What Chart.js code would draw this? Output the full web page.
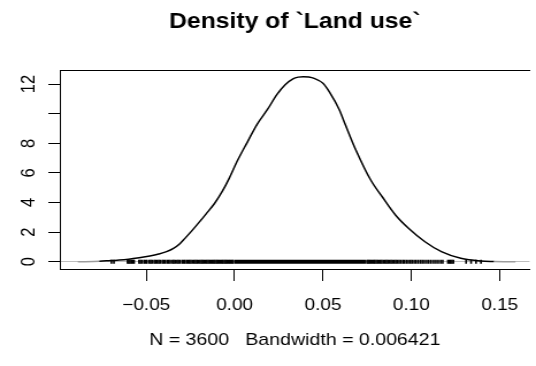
<!DOCTYPE html>
<html>
<head>
<meta charset="utf-8">
<script src="https://cdn.jsdelivr.net/npm/chart.js@4"></script>
<style>
    html, body { margin: 0; padding: 0; background: #fff; }
</style>
</head>
<body>
<!-- the canvas is drawn narrower and stretched to 536px, like the original picture -->
<canvas id="density-chart" width="466" height="366" style="width:536px;height:366px;display:block"></canvas>
<script>
// Kernel density estimate
const densX = [-0.0887, -0.0765, -0.0700, -0.0653, -0.0600, -0.0540, -0.0480, -0.0430, -0.0385, -0.0346,
    -0.0310, -0.0281, -0.0245, -0.0206, -0.0160, -0.0113, -0.0070, -0.0030, 0.0017, 0.0073,
    0.0128, 0.0184, 0.0240, 0.0286, 0.0330, 0.0360, 0.0389, 0.0420, 0.0450, 0.0500,
    0.0537, 0.0593, 0.0625, 0.0686, 0.0770, 0.0835, 0.0910, 0.0984, 0.1077, 0.1170,
    0.1280, 0.1393, 0.1468, 0.1589];
const densY = [0.00, 0.03, 0.08, 0.11, 0.17, 0.27, 0.39, 0.52, 0.68, 0.90,
    1.22, 1.58, 2.05, 2.59, 3.25, 3.95, 4.75, 5.65, 6.85, 8.10,
    9.30, 10.25, 11.30, 11.95, 12.35, 12.47, 12.50, 12.47, 12.38, 12.05,
    11.45, 10.25, 9.30, 7.55, 5.52, 4.39, 3.16, 2.26, 1.35, 0.68,
    0.23, 0.05, 0.02, 0.00];

// Rug marks in the sparse parts, and the stretch where they merge into one bar
const rugTicks = [-0.0697, -0.0683, -0.0606, -0.0599, -0.0592, -0.0584, -0.0576, -0.0569,
    -0.0541, -0.0533, -0.0524, -0.0512, -0.0504, -0.0496, -0.0483, -0.0475, -0.0467, -0.0455,
    -0.0447, -0.0438, -0.0429, -0.0421, -0.0409, -0.0401, -0.0392, -0.0381, -0.0373, -0.0364,
    -0.0352, -0.0345, -0.0337, -0.0326, -0.0318, -0.0309, -0.0297, -0.0289, -0.0281, -0.0271,
    -0.0263, -0.0255, -0.0247, -0.0238, -0.0229, -0.0221, -0.0213, -0.0205, -0.0196, -0.0188,
    -0.0181, -0.0173, -0.0165, -0.0157, -0.0149, -0.0141, -0.0133, -0.0126, -0.0118, -0.0111,
    -0.0103, -0.0096, -0.0088, -0.0081, -0.0073, -0.0066, -0.0058, -0.0051, -0.0044, -0.0036,
    -0.0029, -0.0022, -0.0014, -0.0007,
    0.0749, 0.0756, 0.0763, 0.0771, 0.0778, 0.0786, 0.0793, 0.0801, 0.0809, 0.0817,
    0.0825, 0.0833, 0.0842, 0.0851, 0.0859, 0.0867, 0.0876, 0.0885, 0.0893, 0.0903,
    0.0912, 0.0921, 0.0931, 0.0941, 0.0952, 0.0961, 0.0972, 0.0983, 0.0994, 0.1004,
    0.1016, 0.1027, 0.1039, 0.1051, 0.1062, 0.1074, 0.1087, 0.1099, 0.1112, 0.1126,
    0.1139, 0.1152, 0.1166, 0.1178, 0.1207, 0.1215, 0.1222, 0.1230, 0.1238,
    0.1310, 0.1338, 0.1366, 0.1394];
const rugBand = [0.0, 0.0742];

// Axis settings
const xRange = [-0.0988, 0.1669];
const yRange = [-0.49, 12.95];
const xStep = 0.05;
const yStep = 2;

const titleText = 'Density of `Land use`';
const subText = 'N = 3600   Bandwidth = 0.006421';

const canvas = document.getElementById('density-chart');
const s = 536 / canvas.width; // horizontal stretch
const fontFamily = "'Liberation Sans', Arial, Helvetica, sans-serif";

function fmtX(value) {
    const t = value.toFixed(2);
    return t.startsWith('-') ? '\u2212' + t.slice(1) : t;
}

const densityChart = new Chart(canvas.getContext('2d'), {
    type: 'scatter',
    data: {
        datasets: [{
            type: 'line',
            label: 'density',
            data: densX.map((x, i) => ({ x: x, y: densY[i] })),
            borderColor: '#000',
            borderWidth: 1.5,
            pointRadius: 0,
            cubicInterpolationMode: 'monotone',
            fill: false,
            // the flat ends of the curve sit on the zero line and look grey
            segment: {
                borderColor: ctx => (Math.max(ctx.p0.parsed.y, ctx.p1.parsed.y) <= 0.03 ? '#9c9c9c' : undefined)
            },
            order: 0
        }, {
            type: 'line',
            label: 'rug band',
            data: rugBand.map(x => ({ x: x, y: 0 })),
            borderColor: '#000',
            borderWidth: 4,
            borderCapStyle: 'butt',
            pointRadius: 0,
            order: 1
        }, {
            type: 'scatter',
            label: 'rug',
            data: rugTicks.map(x => ({ x: x, y: 0 })),
            pointStyle: 'line',
            rotation: 90,
            pointRadius: 2,
            pointBorderWidth: 1.6,
            pointBorderColor: '#000',
            showLine: false,
            order: 2
        }]
    },
    options: {
        responsive: false,
        animation: false,
        events: [],
        layout: { padding: 0 },
        scales: {
            x: {
                type: 'linear',
                position: 'bottom',
                min: xRange[0],
                max: xRange[1],
                afterFit: scale => {
                    scale.height = 97;
                    scale.paddingLeft = 0;
                    scale.paddingRight = 0;
                },
                ticks: {
                    stepSize: xStep,
                    includeBounds: false,
                    autoSkip: false,
                    maxRotation: 0,
                    padding: 15,
                    color: '#000',
                    font: { family: fontFamily, size: 16.5 },
                    callback: value => fmtX(value)
                },
                grid: {
                    drawOnChartArea: false,
                    tickLength: 12,
                    tickColor: '#000',
                    tickWidth: 1
                },
                border: { display: true, color: '#000', width: 1 },
                title: {
                    display: true,
                    text: subText,
                    color: '#000',
                    font: { family: fontFamily, size: 17 },
                    padding: { top: 0, bottom: 15 }
                }
            },
            xTop: {
                type: 'linear',
                position: 'top',
                min: xRange[0],
                max: xRange[1],
                afterFit: scale => { scale.height = 0; },
                ticks: { display: false },
                grid: { drawOnChartArea: false, drawTicks: false },
                border: { display: true, color: '#000', width: 1 }
            },
            y: {
                type: 'linear',
                position: 'left',
                min: yRange[0],
                max: yRange[1],
                afterFit: scale => {
                    scale.width = 60 / s;
                    scale.paddingTop = 0;
                    scale.paddingBottom = 0;
                },
                ticks: {
                    stepSize: yStep,
                    includeBounds: false,
                    autoSkip: false,
                    minRotation: 90,
                    maxRotation: 90,
                    crossAlign: 'center',
                    padding: 7,
                    color: '#000',
                    font: { family: fontFamily, size: 16.5 },
                    callback: value => (value === 10 ? '' : String(value)) // R drops this one
                },
                grid: {
                    color: ctx => (ctx.tick && ctx.tick.value === 0 ? '#bebebe' : 'rgba(0,0,0,0)'),
                    tickColor: '#000',
                    tickLength: 11.7 / s,
                    tickWidth: 1,
                    lineWidth: 1
                },
                border: { display: true, color: '#000', width: 1 }
            }
        },
        plugins: {
            legend: { display: false },
            tooltip: { enabled: false },
            title: {
                display: true,
                text: titleText,
                fullSize: false,
                color: '#000',
                font: { family: fontFamily, size: 21.5, weight: 'bold', lineHeight: 1.2 },
                padding: { top: 9.5, bottom: 34.7 }
            }
        }
    }
});
</script>
</body>
</html>
